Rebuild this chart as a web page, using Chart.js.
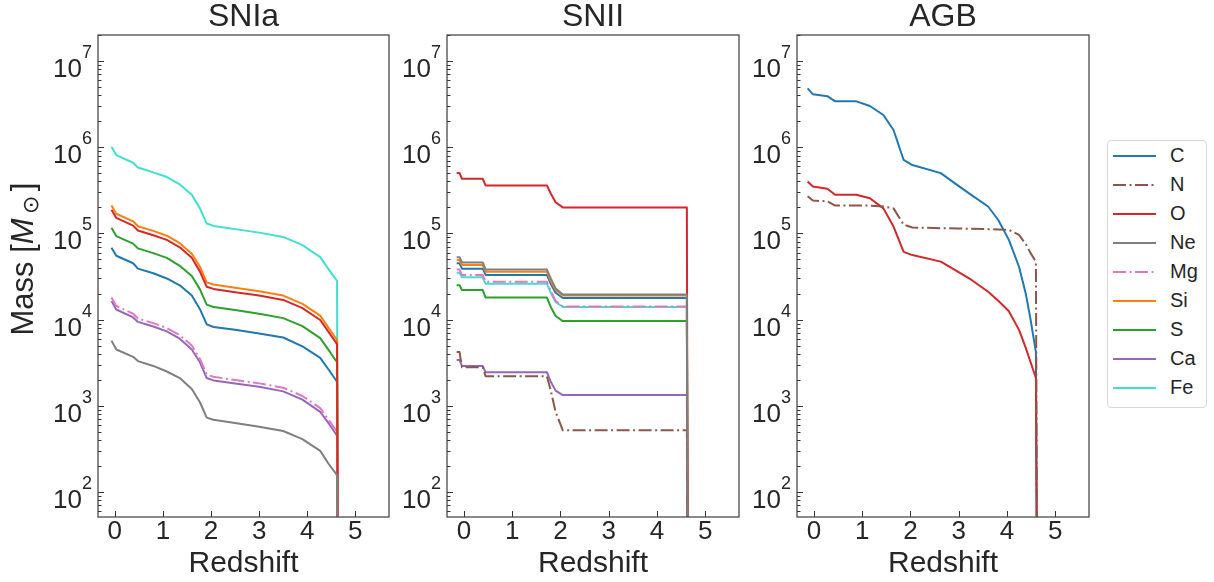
<!DOCTYPE html>
<html>
<head>
<meta charset="utf-8">
<script src="https://cdn.jsdelivr.net/npm/chart.js@4.4.0/dist/chart.umd.min.js"></script>
<style>
  html, body { margin: 0; padding: 0; background: #fff; }
  body { width: 1214px; height: 582px; position: relative; overflow: hidden;
         font-family: "Liberation Sans", Arial, sans-serif; color: #262626; }
  canvas { position: absolute; top: 0; }
  #legend { position: absolute; left: 1107px; top: 140px; width: 100px; height: 268px;
            border: 1px solid #d8d8d8; border-radius: 4px; box-sizing: border-box; }
  .row { position: absolute; left: 5px; height: 29px; display: flex; align-items: center; }
  .row span { margin-left: 14px; font-size: 20px; }
</style>
</head>
<body>
<canvas id="snia" width="392" height="582" style="left:0px"></canvas>
<canvas id="snii" width="353" height="582" style="left:392px"></canvas>
<canvas id="agb" width="350" height="582" style="left:745px"></canvas>
<div id="legend"></div>
<script>
// ---- data ----
const elements = ['C', 'N', 'O', 'Ne', 'Mg', 'Si', 'S', 'Ca', 'Fe'];

// SNIa panel (last point is the drop to ~0 at the end of the run)
const sniaRedshift = [-0.07, 0.03, 0.38, 0.48, 0.8, 1.08, 1.35, 1.6, 1.77, 1.91, 2.05, 2.5, 3.0, 3.5, 3.9, 4.27, 4.45, 4.62, 4.64];
const sniaC  = [6.8e4, 5.5e4, 4.5e4, 3.9e4, 3.45e4, 3.0e4, 2.5e4, 1.9e4, 1.32e4, 8.8e3, 8.2e3, 7.6e3, 6.9e3, 6.2e3, 4.9e3, 3.6e3, 2.6e3, 1.9e3, 1];
const sniaO  = [1.88e5, 1.51e5, 1.23e5, 1.08e5, 9.5e4, 8.4e4, 6.9e4, 5.2e4, 3.6e4, 2.4e4, 2.27e4, 2.08e4, 1.9e4, 1.69e4, 1.36e4, 9.9e3, 7.1e3, 5.2e3, 1];
const sniaNe = [5.7e3, 4.5e3, 3.7e3, 3.3e3, 2.9e3, 2.5e3, 2.1e3, 1.57e3, 1.1e3, 730, 690, 630, 570, 510, 410, 300, 210, 157, 1];
const sniaMg = [1.8e4, 1.44e4, 1.17e4, 1.03e4, 9.1e3, 8.0e3, 6.6e3, 5.0e3, 3.5e3, 2.3e3, 2.17e3, 1.99e3, 1.82e3, 1.62e3, 1.3e3, 940, 680, 500, 1];
const sniaSi = [2.11e5, 1.69e5, 1.38e5, 1.21e5, 1.07e5, 9.4e4, 7.7e4, 5.8e4, 4.1e4, 2.7e4, 2.55e4, 2.34e4, 2.13e4, 1.9e4, 1.52e4, 1.11e4, 7.9e3, 5.8e3, 1];
const sniaS  = [1.16e5, 9.3e4, 7.6e4, 6.7e4, 5.9e4, 5.2e4, 4.2e4, 3.2e4, 2.24e4, 1.49e4, 1.4e4, 1.29e4, 1.17e4, 1.04e4, 8.4e3, 6.1e3, 4.4e3, 3.2e3, 1];
const sniaCa = [1.64e4, 1.31e4, 1.06e4, 9.4e3, 8.3e3, 7.3e3, 6.0e3, 4.5e3, 3.2e3, 2.1e3, 1.97e3, 1.81e3, 1.66e3, 1.47e3, 1.18e3, 850, 620, 450, 1];
const sniaFe = [1.01e6, 8.1e5, 6.6e5, 5.8e5, 5.1e5, 4.5e5, 3.7e5, 2.8e5, 1.95e5, 1.3e5, 1.22e5, 1.12e5, 1.02e5, 9.1e4, 7.3e4, 5.3e4, 3.8e4, 2.8e4, 1];

// SNII panel
const sniiRedshift = [-0.15, -0.09, -0.04, 0.39, 0.45, 1.72, 1.80, 1.90, 2.05, 4.62, 4.64];
const sniiC  = [4.5e4, 4.5e4, 3.9e4, 3.9e4, 3.3e4, 3.3e4, 2.6e4, 2.05e4, 1.78e4, 1.78e4, 1];
const sniiN  = [4.2e3, 4.2e3, 2.8e3, 2.8e3, 2.2e3, 2.2e3, 1.5e3, 850, 520, 520, 1];
const sniiO  = [5.0e5, 5.0e5, 4.3e5, 4.3e5, 3.6e5, 3.6e5, 2.9e5, 2.3e5, 2.0e5, 2.0e5, 1];
const sniiNe = [5.3e4, 5.3e4, 4.6e4, 4.6e4, 3.8e4, 3.8e4, 3.0e4, 2.3e4, 1.95e4, 1.95e4, 1];
const sniiMg = [3.8e4, 3.8e4, 3.3e4, 3.3e4, 2.75e4, 2.75e4, 2.15e4, 1.65e4, 1.42e4, 1.42e4, 1];
const sniiSi = [4.9e4, 4.9e4, 4.3e4, 4.3e4, 3.6e4, 3.6e4, 2.8e4, 2.2e4, 1.9e4, 1.9e4, 1];
const sniiS  = [2.5e4, 2.5e4, 2.2e4, 2.2e4, 1.8e4, 1.8e4, 1.4e4, 1.1e4, 9.6e3, 9.6e3, 1];
const sniiCa = [3.4e3, 3.4e3, 2.9e3, 2.9e3, 2.45e3, 2.45e3, 1.9e3, 1.5e3, 1.33e3, 1.33e3, 1];
const sniiFe = [3.5e4, 3.5e4, 3.1e4, 3.1e4, 2.6e4, 2.6e4, 2.05e4, 1.6e4, 1.4e4, 1.4e4, 1];

// AGB panel
const agbRedshift = [-0.13, -0.02, 0.28, 0.44, 0.88, 1.16, 1.44, 1.65, 1.86, 2.04, 2.63, 2.98, 3.26, 3.61, 3.82, 4.04, 4.25, 4.39, 4.49, 4.6, 4.63];
const agbC = [4.8e6, 4.1e6, 3.9e6, 3.4e6, 3.4e6, 3.0e6, 2.36e6, 1.58e6, 7.1e5, 6.2e5, 5.0e5, 3.6e5, 2.8e5, 2.05e5, 1.43e5, 8.4e4, 4.1e4, 2.0e4, 1.0e4, 4.2e3, 1];
const agbN = [2.7e5, 2.4e5, 2.35e5, 2.1e5, 2.1e5, 2.1e5, 2.05e5, 1.95e5, 1.26e5, 1.17e5, 1.15e5, 1.14e5, 1.13e5, 1.12e5, 1.11e5, 1.1e5, 9.6e4, 7.5e4, 5.9e4, 4.7e4, 1];
const agbO = [4.0e5, 3.5e5, 3.3e5, 2.8e5, 2.8e5, 2.56e5, 1.95e5, 1.2e5, 6.1e4, 5.6e4, 4.7e4, 3.6e4, 2.9e4, 2.1e4, 1.65e4, 1.25e4, 7.6e3, 4.7e3, 3.2e3, 2.1e3, 1];

const yTickExponents = [2, 3, 4, 5, 6, 7];
const xTickValues = [0, 1, 2, 3, 4, 5];

// ---- styles ----
const colors = {C: '#1f77b4', N: '#8c564b', O: '#d62728', Ne: '#7f7f7f', Mg: '#e377c2',
                Si: '#ff7f0e', S: '#2ca02c', Ca: '#9467bd', Fe: '#40e0d0'};
const dashed = {N: true, Mg: true};
const drawOrder = {Fe: 9, C: 8, S: 7, Ca: 6, Si: 5, Mg: 4, O: 3, N: 2, Ne: 1}; // higher drawn first
const DASHDOT = [13, 3.5, 2, 3.5];
const TEXT = '#262626';
const FONT = '"Liberation Sans", Arial, sans-serif';

function makeDataset(el, xs, ys) {
    return {
        label: el,
        data: xs.map((x, i) => ({x: x, y: ys[i]})),
        borderColor: colors[el],
        backgroundColor: colors[el],
        borderWidth: 2,
        borderDash: dashed[el] ? DASHDOT : [],
        borderCapStyle: 'butt',
        borderJoinStyle: 'round',
        pointRadius: 0,
        tension: 0,
        fill: false,
        order: drawOrder[el]
    };
}

// inward ticks, full frame, 10^n labels and the y title
const axesDecor = {
    id: 'axesDecor',
    afterDraw(chart, args, opts) {
        const {ctx, chartArea: a, scales: {x, y}} = chart;
        ctx.save();
        ctx.strokeStyle = '#333';
        ctx.lineWidth = 1;
        for (let e = 1; e <= 7; e++) {
            for (let k = 1; k <= 9; k++) {
                const v = k * Math.pow(10, e);
                if (v < y.min || v > y.max) continue;
                const py = Math.round(y.getPixelForValue(v)) + 0.5;
                ctx.beginPath();
                ctx.moveTo(a.left, py);
                ctx.lineTo(a.left + (k === 1 ? 6 : 3.5), py);
                ctx.stroke();
            }
        }
        xTickValues.forEach(v => {
            const px = Math.round(x.getPixelForValue(v)) + 0.5;
            ctx.beginPath();
            ctx.moveTo(px, a.bottom);
            ctx.lineTo(px, a.bottom - 6);
            ctx.stroke();
        });
        ctx.strokeStyle = '#444';
        ctx.lineWidth = 1.25;
        ctx.strokeRect(a.left, a.top, a.right - a.left, a.bottom - a.top);

        // y tick labels: 10 with a raised exponent
        ctx.fillStyle = TEXT;
        ctx.textBaseline = 'alphabetic';
        ctx.textAlign = 'right';
        yTickExponents.forEach(e => {
            const py = y.getPixelForValue(Math.pow(10, e));
            const right = a.left - 6;
            ctx.font = '18px ' + FONT;
            const ew = ctx.measureText(String(e)).width;
            ctx.fillText(String(e), right, py - 3);
            ctx.font = '26px ' + FONT;
            ctx.fillText('10', right - ew, py + 16);
        });

        if (opts.yTitle) {
            ctx.save();
            ctx.translate(33, 259);
            ctx.rotate(-Math.PI / 2);
            ctx.textAlign = 'left';
            const parts = [
                {t: 'Mass [', f: '31px ' + FONT, dy: 0},
                {t: 'M', f: 'italic 31px ' + FONT, dy: 0},
                {t: '\u2009\u2299\u2009', f: '22px "DejaVu Sans", ' + FONT, dy: 5},
                {t: ']', f: '31px ' + FONT, dy: 0}
            ];
            let total = 0;
            parts.forEach(p => { ctx.font = p.f; p.w = ctx.measureText(p.t).width; total += p.w; });
            let cx = -total / 2;
            parts.forEach(p => { ctx.font = p.f; ctx.fillText(p.t, cx, p.dy); cx += p.w; });
            ctx.restore();
        }
        ctx.restore();
    }
};

function makeChart(id, title, datasets, yWidth, rightPad, showYTitle) {
    return new Chart(document.getElementById(id), {
        type: 'line',
        data: {datasets: datasets},
        plugins: [axesDecor],
        options: {
            responsive: false,
            animation: false,
            devicePixelRatio: 1,
            layout: {padding: {left: 0, right: rightPad, top: 0, bottom: 0}},
            plugins: {
                legend: {display: false},
                tooltip: {enabled: false},
                title: {
                    display: true, text: title, color: TEXT, fullSize: false,
                    font: {family: FONT, size: 32, weight: 'normal', lineHeight: 1},
                    padding: {top: 1, bottom: 2}
                },
                axesDecor: {yTitle: showYTitle}
            },
            scales: {
                x: {
                    type: 'linear', min: -0.35, max: 5.7,
                    grid: {display: false}, border: {display: false},
                    ticks: {stepSize: 1, includeBounds: false, color: TEXT, padding: 0,
                            font: {family: FONT, size: 26, lineHeight: 0.5}},
                    title: {display: true, text: 'Redshift', color: TEXT, padding: 0,
                            font: {family: FONT, size: 30, lineHeight: 1.2}},
                    afterFit: s => { s.height = 65; }
                },
                y: {
                    type: 'logarithmic', min: 51.3, max: 2.0e7,
                    grid: {display: false}, border: {display: false},
                    ticks: {display: false},
                    afterFit: s => { s.width = yWidth; }
                }
            }
        }
    });
}

makeChart('snia', 'SNIa', [
    makeDataset('C', sniaRedshift, sniaC),
    makeDataset('O', sniaRedshift, sniaO),
    makeDataset('Ne', sniaRedshift, sniaNe),
    makeDataset('Mg', sniaRedshift, sniaMg),
    makeDataset('Si', sniaRedshift, sniaSi),
    makeDataset('S', sniaRedshift, sniaS),
    makeDataset('Ca', sniaRedshift, sniaCa),
    makeDataset('Fe', sniaRedshift, sniaFe)
], 98, 3, true);

makeChart('snii', 'SNII', [
    makeDataset('C', sniiRedshift, sniiC),
    makeDataset('N', sniiRedshift, sniiN),
    makeDataset('O', sniiRedshift, sniiO),
    makeDataset('Ne', sniiRedshift, sniiNe),
    makeDataset('Mg', sniiRedshift, sniiMg),
    makeDataset('Si', sniiRedshift, sniiSi),
    makeDataset('S', sniiRedshift, sniiS),
    makeDataset('Ca', sniiRedshift, sniiCa),
    makeDataset('Fe', sniiRedshift, sniiFe)
], 55, 6, false);

makeChart('agb', 'AGB', [
    makeDataset('C', agbRedshift, agbC),
    makeDataset('N', agbRedshift, agbN),
    makeDataset('O', agbRedshift, agbO)
], 52, 6, false);

// legend
const legend = document.getElementById('legend');
elements.forEach((el, i) => {
    const row = document.createElement('div');
    row.className = 'row';
    row.style.top = (29 * i) + 'px';
    const dash = dashed[el] ? ' stroke-dasharray="' + DASHDOT.join(' ') + '"' : '';
    row.innerHTML = '<svg width="43" height="4"><line x1="0" y1="2" x2="43" y2="2" stroke="' + colors[el] +
        '" stroke-width="2"' + dash + '/></svg><span>' + el + '</span>';
    legend.appendChild(row);
});
</script>
</body>
</html>
